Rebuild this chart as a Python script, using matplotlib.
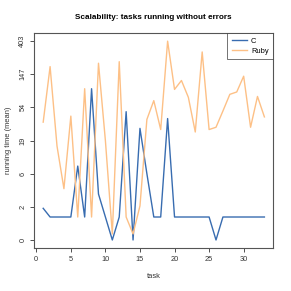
import numpy as np
from matplotlib import pyplot as plt

tasks = list(range(1, 34))
c_times = [1.6, 1, 1, 1, 1, 8.3, 1, 95, 3, 1, 0, 1, 47, 0, 28, 6.4, 1, 1, 38, 1,
           1, 1, 1, 1, 1, 0, 1, 1, 1, 1, 1, 1, 1]
ruby_times = [34, 186, 16, 3.7, 41, 1, 95, 1, 206, 19, 0.2, 216, 1, 0.2, 1.8, 37, 66,
              27, 402, 93, 122, 73, 25, 290, 27, 29, 48, 80, 86, 139, 29, 75, 40]

ytick_vals = [0, 2, 6, 19, 54, 147, 403]
ytick_labels = ["0", "2", "6", "19", "54", "147", "403"]
xtick_vals = [0, 5, 10, 15, 20, 25, 30]

plt.rcParams['font.family'] = ['Liberation Sans', 'DejaVu Sans']

fig = plt.figure(figsize=(2.91, 2.91), dpi=100)
ax = fig.add_axes([0.118, 0.148, 0.821, 0.738])

ax.set_yscale('function', functions=(np.log1p, np.expm1))
ax.plot(tasks, c_times, color='#386CB0', lw=1.0, label='C')
ax.plot(tasks, ruby_times, color='#FDC086', lw=1.0, label='Ruby')

ax.set_xlim(-0.28, 34.28)
ax.set_ylim(np.expm1(-0.24), np.expm1(6.24))
ax.set_xticks(xtick_vals)
ax.set_yticks(np.expm1(np.arange(7)))
ax.set_yticklabels(ytick_labels, rotation=90, va='center')
ax.minorticks_off()
ax.tick_params(labelsize=5.3, length=2.8, width=0.6, pad=3, colors='#333333')

for s in ax.spines.values():
    s.set_color('#555555')
    s.set_linewidth(0.8)

ax.set_title("Scalability: tasks running without errors", fontsize=5.9,
             fontweight='bold', pad=10)
ax.set_xlabel("task", fontsize=5.4, labelpad=7, color='#333333')
ax.set_ylabel("running time (mean)", fontsize=5.4, labelpad=5, color='#333333')

leg = ax.legend(loc='upper right', fontsize=5.4, frameon=True, fancybox=False,
                borderaxespad=0, handlelength=2.0, borderpad=0.6, labelspacing=0.35,
                handletextpad=0.6)
leg.get_frame().set_edgecolor('#333333')
leg.get_frame().set_linewidth(0.6)

fig.savefig('out.png', dpi=100)
